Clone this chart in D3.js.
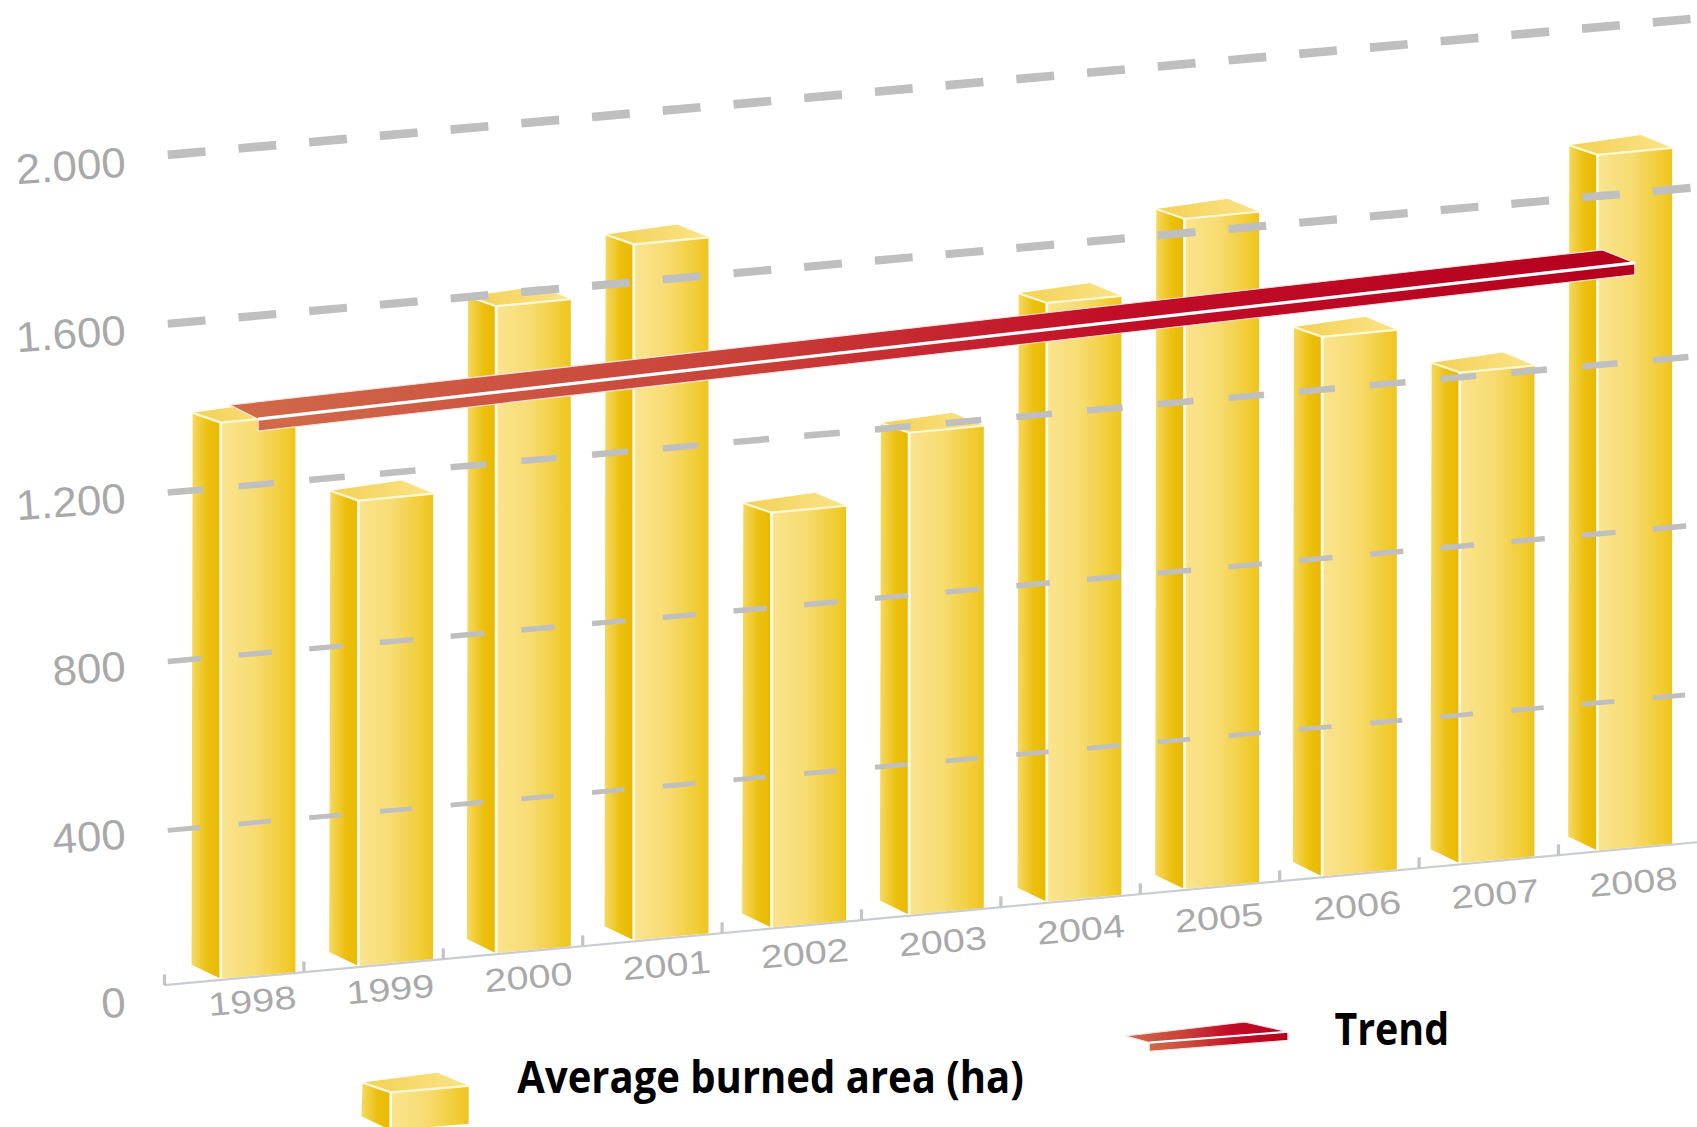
<!DOCTYPE html>
<html>
<head>
<meta charset="utf-8">
<script src="https://cdn.jsdelivr.net/npm/d3@7"></script>
<style>
  html, body { margin: 0; padding: 0; background: #fff; }
  svg { display: block; }
</style>
</head>
<body>
<div id="chart"></div>
<script>
var years      = ["1998", "1999", "2000", "2001", "2002", "2003", "2004", "2005", "2006", "2007", "2008"];
var burnedArea = [1320, 1105, 1535, 1651, 985, 1144, 1421, 1590, 1280, 1165, 1650];
var trendYears = ["1998", "2008"];
var trendArea  = [1320, 1386];
var tickValues = [0, 400, 800, 1200, 1600, 2000];
var tickLabels = ["0", "400", "800", "1.200", "1.600", "2.000"];
var gridValues = [400, 800, 1200, 1600, 2000];

var barWidth = 69;

// drawn in the size of the picture as i measured it, viewBox stretches it to the window
var canvas = d3.select("#chart")
    .append("svg")
    .attr("width", 1697)
    .attr("height", 1127)
    .attr("viewBox", "0 0 1568 1041")
    .attr("preserveAspectRatio", "none")
    .style("font-family", "'Liberation Sans', Arial, sans-serif");

// scales
var x       = d3.scalePoint().domain(years).range([204, 1476]);
var xTick   = d3.scalePoint().domain(years).range([152, 1440]);
var xLabel  = d3.scalePoint().domain(years).range([234, 1510]);
var h       = d3.scaleLinear().domain([0, 400]).range([0, 156]);
var floor   = d3.scaleLinear().domain([152, 1568]).range([910, 778]);  // floor line, tilted
var wall    = d3.scaleLinear().domain([155, 1568]).range([923, 797]);  // value 0 on the back wall
var yLabel  = d3.scaleLinear().domain([234, 1510]).range([925, 815]);
var yTickY  = d3.scaleLinear().domain([0, 2000]).range([939, 163]);

var pts = (a) => a.map((p) => p.join(",")).join(" ");

// gradients
var defs = canvas.append("defs");
var addGradient = (id, stops) => {
    var g = defs.append("linearGradient").attr("id", id);
    stops.forEach((s) => {
        g.append("stop").attr("offset", s[0]).attr("stop-color", s[1]);
    });
};
addGradient("front", [[0, "#fae48f"], [0.45, "#f7dc72"], [0.85, "#f1cc33"], [1, "#eec51e"]]);
addGradient("side",  [[0, "#f5d964"], [0.55, "#ecc00f"], [1, "#e9b800"]]);
addGradient("top",   [[0, "#f3d155"], [1, "#fbe388"]]);
addGradient("trend", [[0, "#d06a4a"], [0.35, "#c9423a"], [0.62, "#c20f28"], [1, "#b4001e"]]);

var drawBar = (group, fl, fr, bottomL, bottomR) => {
    // fl, fr : top corners of the front face
    var sideTop = [fl[0] - 26, fl[1] - 9];
    var sideBot = [bottomL[0] - 27, bottomL[1] - 13];
    var backR   = [fr[0] - 29, fr[1] - 12];

    group.append("polygon")
        .attr("points", pts([sideTop, fl, bottomL, sideBot]))
        .attr("fill", "url(#side)");
    group.append("polygon")
        .attr("points", pts([sideTop, backR, fr, fl]))
        .attr("fill", "url(#top)");
    group.append("polygon")
        .attr("points", pts([fl, fr, bottomR, bottomL]))
        .attr("fill", "url(#front)");
    // white edges
    group.append("polyline")
        .attr("points", pts([sideTop, fl, fr]))
        .attr("fill", "none")
        .attr("stroke", "#fff9d8")
        .attr("stroke-width", 2);
    group.append("line")
        .attr("x1", fl[0]).attr("y1", fl[1])
        .attr("x2", bottomL[0]).attr("y2", bottomL[1])
        .attr("stroke", "#fffbe6")
        .attr("stroke-width", 2.5);
};

// floor line and ticks
canvas.append("line")
    .attr("x1", floor.domain()[0]).attr("y1", floor(152))
    .attr("x2", 1568).attr("y2", floor(1568))
    .attr("stroke", "#c9cdd3")
    .attr("stroke-width", 2);

canvas.selectAll(".tick-mark")
    .data(years)
    .enter()
    .append("line")
    .attr("class", "tick-mark")
    .attr("x1", (d) => xTick(d)).attr("x2", (d) => xTick(d))
    .attr("y1", (d) => floor(xTick(d)))
    .attr("y2", (d) => floor(xTick(d)) - 10)
    .attr("stroke", "#c4c4c4")
    .attr("stroke-width", 3);

// bars
years.forEach((year, i) => {
    var x1 = x(year), x2 = x1 + barWidth, bar = h(burnedArea[i]);
    drawBar(canvas.append("g").attr("class", "bar"),
        [x1, floor(x1) - bar], [x2, floor(x2) - bar],
        [x1, floor(x1) - 1], [x2, floor(x2) - 1]);
});

// grid goes over the bars in the original
var gridWidth = { 400: 4.5, 800: 5, 1200: 6, 1600: 7.5, 2000: 8 };
var gridDash  = { 400: "30,35.6", 800: "31,34.6", 1200: "33,32.6", 1600: "35,30.6", 2000: "35,30.6" };

canvas.selectAll(".grid")
    .data(gridValues)
    .enter()
    .append("line")
    .attr("class", "grid")
    .attr("x1", 155).attr("x2", 1568)
    .attr("y1", (d) => wall(155) - h(d))
    .attr("y2", (d) => wall(1568) - h(d))
    .attr("stroke", "#bfbfbf")
    .attr("stroke-width", (d) => gridWidth[d])
    .attr("stroke-dasharray", (d) => gridDash[d]);

// trend band
var trendPoints = trendYears.map((year, i) => {
    var tx = x(year) + barWidth / 2;
    return [tx, floor(tx) - h(trendArea[i])];
});
var drawTrend = (group, a, b, depthA, depthB, thick, edge) => {
    group.append("polygon")
        .attr("points", pts([[a[0], a[1]], [b[0], b[1]], [b[0], b[1] + thick], [a[0], a[1] + thick]]))
        .attr("fill", "url(#trend)")
        .attr("stroke", "#ffe4e0")
        .attr("stroke-width", 1);
    group.append("polygon")
        .attr("points", pts([[a[0], a[1]], [a[0] + depthA[0], a[1] + depthA[1]], [b[0] + depthB[0], b[1] + depthB[1]], b]))
        .attr("fill", "url(#trend)")
        .attr("stroke", "#ffe4e0")
        .attr("stroke-width", 1);
    group.append("line")
        .attr("x1", a[0]).attr("y1", a[1])
        .attr("x2", b[0]).attr("y2", b[1])
        .attr("stroke", "#fff")
        .attr("stroke-width", edge);
};
drawTrend(canvas.append("g").attr("class", "trend"), trendPoints[0], trendPoints[1], [-26, -13], [-30, -12], 11, 3);

// axis labels
canvas.selectAll(".y-label")
    .data(tickValues)
    .enter()
    .append("text")
    .attr("class", "y-label")
    .attr("text-anchor", "end")
    .attr("font-size", 39)
    .attr("fill", "#a9a9a9")
    .attr("transform", (d) => "translate(117," + yTickY(d) + ") rotate(-4) scale(1.04,1)")
    .text((d, i) => tickLabels[i]);

canvas.selectAll(".x-label")
    .data(years)
    .enter()
    .append("text")
    .attr("class", "x-label")
    .attr("text-anchor", "middle")
    .attr("font-size", 30)
    .attr("fill", "#a9a9a9")
    .attr("transform", (d) => "translate(" + xLabel(d) + "," + (yLabel(xLabel(d)) + 10) + ") rotate(-5) scale(1.22,1)")
    .text((d) => d);

// legend
drawBar(canvas.append("g").attr("class", "legend-bar"), [361, 1009], [433, 1003], [361, 1044], [433, 1038]);
drawTrend(canvas.append("g").attr("class", "legend-trend"), [1062, 963], [1190, 953], [-22, -6], [-40, -9], 8, 2);

canvas.append("text")
    .attr("x", 478).attr("y", 1010)
    .attr("font-family", "'Open Sans', sans-serif")
    .attr("font-weight", 700)
    .attr("font-size", 41)
    .attr("textLength", 468)
    .attr("lengthAdjust", "spacingAndGlyphs")
    .attr("fill", "#000")
    .text("Average burned area (ha)");

canvas.append("text")
    .attr("x", 1233).attr("y", 965)
    .attr("font-family", "'Open Sans', sans-serif")
    .attr("font-weight", 700)
    .attr("font-size", 41)
    .attr("textLength", 106)
    .attr("lengthAdjust", "spacingAndGlyphs")
    .attr("fill", "#000")
    .text("Trend");
</script>
</body>
</html>
